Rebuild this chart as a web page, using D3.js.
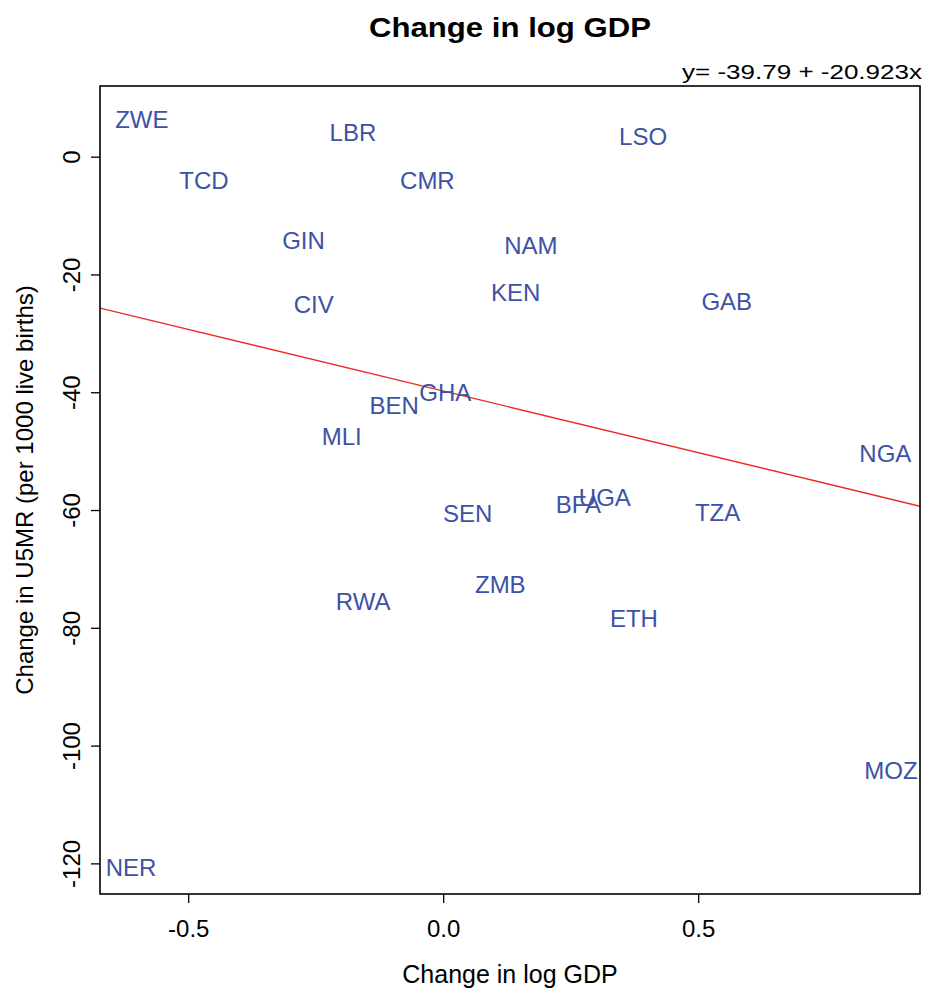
<!DOCTYPE html>
<html>
<head>
<meta charset="utf-8">
<script src="https://cdn.jsdelivr.net/npm/d3@7"></script>
<style>
  html, body { margin: 0; padding: 0; background: #fff; }
  svg text { font-family: "Liberation Sans", Arial, Helvetica, sans-serif; }
</style>
</head>
<body>
<svg id="chart" width="927" height="988"></svg>
<script>
// Country codes and their changes in log GDP (x) and under-5 mortality (y)
const countries = ["ZWE","LBR","LSO","TCD","CMR","GIN","NAM","KEN","CIV","GAB","GHA","BEN","MLI","NGA","UGA","BFA","SEN","TZA","ZMB","RWA","ETH","MOZ","NER"];
const gdpChange = [-0.591,-0.177,0.392,-0.469,-0.031,-0.274,0.172,0.142,-0.254,0.556,0.004,-0.096,-0.199,0.867,0.317,0.265,0.048,0.538,0.112,-0.157,0.374,0.878,-0.612];
const u5mrChange = [6.4,4.2,3.4,-4.0,-4.0,-14.2,-15.1,-23.1,-25.1,-24.6,-40.1,-42.3,-47.5,-50.3,-57.9,-59.1,-60.5,-60.4,-72.7,-75.5,-78.4,-104.2,-120.7];

// Fitted line y = intercept + slope * x
const fitIntercept = -39.79;
const fitSlope = -20.923;

const xTicks = [-0.5, 0.0, 0.5];
const yTicks = [0, -20, -40, -60, -80, -100, -120];
const xDomain = [-0.673, 0.935];
const yDomain = [-125.2, 12.0];

const svg = d3.select("#chart");
const margin = { left: 100, right: 7, top: 86, bottom: 94 };
const W = 927, H = 988;
const x = d3.scaleLinear().domain(xDomain).range([margin.left, W - margin.right]);
const y = d3.scaleLinear().domain(yDomain).range([H - margin.bottom, margin.top]);

svg.append("defs").append("clipPath").attr("id", "plotclip")
  .append("rect")
  .attr("x", margin.left).attr("y", margin.top)
  .attr("width", W - margin.left - margin.right)
  .attr("height", H - margin.top - margin.bottom);

// Title
svg.append("text")
  .attr("x", (margin.left + W - margin.right) / 2)
  .attr("y", 37)
  .attr("text-anchor", "middle")
  .attr("font-size", 28)
  .attr("font-weight", "bold")
  .attr("textLength", 282)
  .attr("lengthAdjust", "spacingAndGlyphs")
  .text("Change in log GDP");

// Fitted equation above the top-right corner of the frame
svg.append("text")
  .attr("x", W - margin.right - 238)
  .attr("y", 79)
  .attr("font-size", 20)
  .attr("textLength", 240)
  .attr("lengthAdjust", "spacingAndGlyphs")
  .text("y= -39.79 + -20.923x");

// Axes
const xAxis = d3.axisBottom(x).tickValues(xTicks).tickSize(9).tickPadding(8)
  .tickFormat(d => d.toFixed(1));
const gx = svg.append("g")
  .attr("transform", `translate(0,${H - margin.bottom})`)
  .call(xAxis);
gx.select(".domain").remove();
gx.selectAll(".tick line").attr("stroke", "#000").attr("stroke-width", 1.3);
gx.selectAll(".tick text")
  .attr("font-size", 24)
  .attr("fill", "#000")
  .attr("dy", null)
  .attr("y", 43);

const yAxis = d3.axisLeft(y).tickValues(yTicks).tickSize(9).tickFormat(d => String(d));
const gy = svg.append("g")
  .attr("transform", `translate(${margin.left},0)`)
  .call(yAxis);
gy.select(".domain").remove();
gy.selectAll(".tick line").attr("stroke", "#000").attr("stroke-width", 1.3);
gy.selectAll(".tick text")
  .attr("font-size", 24)
  .attr("fill", "#000")
  .attr("x", null).attr("dy", null)
  .attr("text-anchor", "middle")
  .attr("transform", "translate(-20,0) rotate(-90)");

// Axis titles
svg.append("text")
  .attr("x", (margin.left + W - margin.right) / 2)
  .attr("y", 983)
  .attr("text-anchor", "middle")
  .attr("font-size", 25)
  .text("Change in log GDP");

svg.append("text")
  .attr("transform", `translate(33,${(margin.top + H - margin.bottom) / 2}) rotate(-90)`)
  .attr("text-anchor", "middle")
  .attr("font-size", 24)
  .text("Change in U5MR (per 1000 live births)");

// Regression line across the x range
const plot = svg.append("g").attr("clip-path", "url(#plotclip)");
plot.append("line")
  .attr("x1", x(xDomain[0])).attr("y1", y(fitIntercept + fitSlope * xDomain[0]))
  .attr("x2", x(xDomain[1])).attr("y2", y(fitIntercept + fitSlope * xDomain[1]))
  .attr("stroke", "#ee2a24")
  .attr("stroke-width", 1.4);

// Country labels centered on their points
plot.selectAll("text.country")
  .data(countries.map((c, i) => ({ code: c, gx: gdpChange[i], gy: u5mrChange[i] })))
  .join("text")
  .attr("class", "country")
  .attr("x", d => x(d.gx))
  .attr("y", d => y(d.gy))
  .attr("dy", "0.36em")
  .attr("text-anchor", "middle")
  .attr("font-size", 24)
  .attr("fill", "#3d52a6")
  .text(d => d.code);

// Frame
svg.append("rect")
  .attr("x", margin.left).attr("y", margin.top)
  .attr("width", W - margin.left - margin.right)
  .attr("height", H - margin.top - margin.bottom)
  .attr("fill", "none")
  .attr("stroke", "#000")
  .attr("stroke-width", 1.6);
</script>
</body>
</html>
